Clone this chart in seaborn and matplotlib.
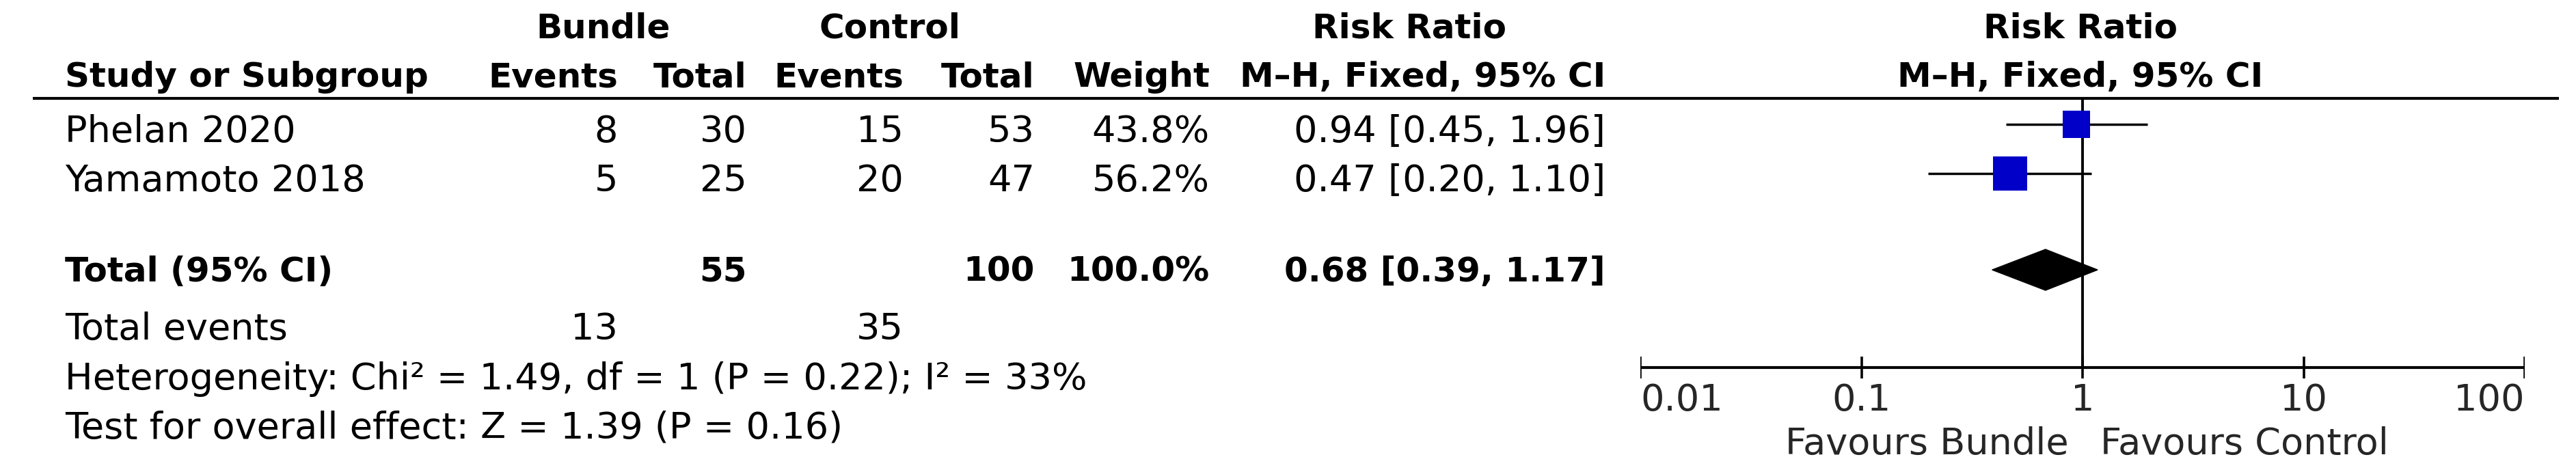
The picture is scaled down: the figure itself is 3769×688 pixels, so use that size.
import matplotlib
matplotlib.use("Agg")
import matplotlib.pyplot as plt
import seaborn as sns
import pandas as pd
from matplotlib.patches import Polygon

# ---------------- data ----------------
studies = ["Phelan 2020", "Yamamoto 2018"]
bundle_events = [8, 5]
bundle_total = [30, 25]
control_events = [15, 20]
control_total = [53, 47]
weights = [43.8, 56.2]
rr = [0.94, 0.47]
ci_low = [0.45, 0.20]
ci_high = [1.96, 1.10]

total_bundle = 55
total_control = 100
total_weight = 100.0
total_rr = 0.68
total_low = 0.39
total_high = 1.17
total_events_bundle = 13
total_events_control = 35

heterogeneity = "Heterogeneity: Chi\u00b2 = 1.49, df = 1 (P = 0.22); I\u00b2 = 33%"
overall = "Test for overall effect: Z = 1.39 (P = 0.16)"

axis_ticks = [0.01, 0.1, 1, 10, 100]
axis_labels = ["0.01", "0.1", "1", "10", "100"]
favours_left = "Favours Bundle"
favours_right = "Favours Control"

# ---------------- layout (pixels) ----------------
W, H = 3769, 688
DPI = 100
sns.set_theme(style="white")
plt.rcParams['font.family'] = ['DejaVu Sans']
FS_B = 36     # bold
FS_R = 39     # regular

fig = plt.figure(figsize=(W / DPI, H / DPI), dpi=DPI)
fig.patch.set_facecolor("white")
tab = fig.add_axes([0, 0, 1, 1])
tab.set_xlim(0, W)
tab.set_ylim(H, 0)
tab.axis("off")

# text baselines
b_h1, b_h2 = 55, 127
b_rows = [208, 280]
b_total, b_tev, b_het, b_test = 412, 497, 570, 642
b_tick, b_fav = 601, 665
# mark rows
y_line = 144
mark_rows = [182, 254]
y_total = 395
y_axis = 538

x_study = 95
x_be, x_bt, x_ce, x_ct, x_w, x_rr = 904, 1093, 1322, 1514, 1770, 2349

def t(x, y, s, ha="left", bold=False):
    tab.text(x, y, s, ha=ha, va="baseline", fontsize=FS_B if bold else FS_R,
             fontweight="bold" if bold else "normal", color="black")

# headers
t(883, b_h1, "Bundle", "center", True)
t(1302, b_h1, "Control", "center", True)
t(2062, b_h1, "Risk Ratio", "center", True)
t(3044, b_h1, "Risk Ratio", "center", True)
t(x_study, b_h2, "Study or Subgroup", "left", True)
t(x_be, b_h2, "Events", "right", True)
t(x_bt, b_h2, "Total", "right", True)
t(x_ce, b_h2, "Events", "right", True)
t(x_ct, b_h2, "Total", "right", True)
t(x_w, b_h2, "Weight", "right", True)
t(x_rr, b_h2, "M\u2013H, Fixed, 95% CI", "right", True)
t(3044, b_h2, "M\u2013H, Fixed, 95% CI", "center", True)
tab.plot([48, 3744], [y_line, y_line], color="black", lw=3, solid_capstyle="butt")

# study rows
for i, s in enumerate(studies):
    y = b_rows[i]
    t(x_study, y, s)
    t(x_be, y, f"{bundle_events[i]}", "right")
    t(x_bt, y, f"{bundle_total[i]}", "right")
    t(x_ce, y, f"{control_events[i]}", "right")
    t(x_ct, y, f"{control_total[i]}", "right")
    t(x_w, y, f"{weights[i]:.1f}%", "right")
    t(x_rr, y, f"{rr[i]:.2f} [{ci_low[i]:.2f}, {ci_high[i]:.2f}]", "right")

# total rows
t(x_study, b_total, "Total (95% CI)", "left", True)
t(x_bt, b_total, f"{total_bundle}", "right", True)
t(x_ct, b_total, f"{total_control}", "right", True)
t(x_w, b_total, f"{total_weight:.1f}%", "right", True)
t(x_rr, b_total, f"{total_rr:.2f} [{total_low:.2f}, {total_high:.2f}]", "right", True)
t(x_study, b_tev, "Total events")
t(x_be, b_tev, f"{total_events_bundle}", "right")
t(x_ce, b_tev, f"{total_events_control}", "right")
t(x_study, b_het, heterogeneity)
t(x_study, b_test, overall)

# ---------------- forest axes ----------------
ax_l, ax_r = 2400, 3694
fa = fig.add_axes([ax_l / W, 0, (ax_r - ax_l) / W, 1])
fa.patch.set_alpha(0)

df = pd.DataFrame({"study": studies, "rr": rr, "lo": ci_low, "hi": ci_high,
                   "w": weights, "y": mark_rows})
# no-effect line
fa.plot([1, 1], [y_line, y_axis], color="black", lw=2.8, zorder=1)
# CI lines
fa.hlines(df["y"], df["lo"], df["hi"], color="black", lw=2.5, zorder=2)
# weighted squares
sns.scatterplot(data=df, x="rr", y="y", size="w", sizes=(29 ** 2, 36 ** 2),
                marker="s", color="#0000C8", edgecolor="none", legend=False,
                ax=fa, zorder=3)
fa.set_xscale("log")
fa.set_xlim(axis_ticks[0], axis_ticks[-1])
fa.set_ylim(H, 0)
fa.axis("off")
# diamond
dh = 30
fa.add_patch(Polygon([(total_low, y_total), (total_rr, y_total - dh),
                      (total_high, y_total), (total_rr, y_total + dh)],
                     closed=True, facecolor="black", edgecolor="black", zorder=3))
# axis
fa.plot([axis_ticks[0], axis_ticks[-1]], [y_axis, y_axis], color="black", lw=3,
        solid_capstyle="butt", zorder=2)
fa.vlines(axis_ticks, y_axis - 16, y_axis + 16, color="black", lw=2.6)
for k, (v, lab) in enumerate(zip(axis_ticks, axis_labels)):
    ha = "left" if k == 0 else ("right" if k == len(axis_ticks) - 1 else "center")
    fa.text(v, b_tick, lab, ha=ha, va="baseline", fontsize=FS_R)
fa.text(0.865, b_fav, favours_left, ha="right", va="baseline", fontsize=FS_R)
fa.text(1.20, b_fav, favours_right, ha="left", va="baseline", fontsize=FS_R)

fig.savefig("out.png", dpi=DPI, facecolor="white")
